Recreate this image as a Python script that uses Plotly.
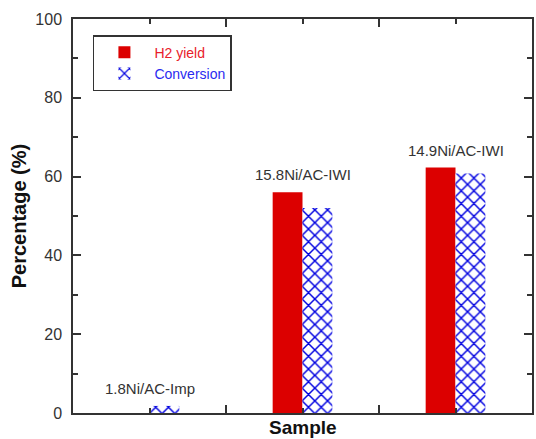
import plotly.graph_objects as go

samples = ["1.8Ni/AC-Imp", "15.8Ni/AC-IWI", "14.9Ni/AC-IWI"]
h2_yield = [0.0, 56.0, 62.3]
conversion = [1.8, 52.0, 60.8]
y_ticks = [0, 20, 40, 60, 80, 100]

xpos = list(range(len(samples)))
FONT = "Liberation Sans, Arial, sans-serif"
AX = "#333333"

fig = go.Figure()
fig.add_trace(go.Bar(
    x=xpos, y=h2_yield,
    name="<span style='color:#e8202a'>H2 yield</span>",
    marker=dict(color="#dc0000", line=dict(width=0)),
))
fig.add_trace(go.Bar(
    x=xpos, y=conversion,
    name="<span style='color:#2a2af0'>Conversion</span>",
    marker=dict(color="white", line=dict(width=0),
                pattern=dict(shape="x", fgcolor="#0000e0", bgcolor="white",
                             size=9, solidity=0.3, fillmode="replace")),
))

for i, s in enumerate(samples):
    fig.add_annotation(x=xpos[i], y=max(h2_yield[i], conversion[i]),
                       text=s, showarrow=False, yanchor="bottom", yshift=7,
                       font=dict(family=FONT, size=15, color="#333333"))

fig.add_annotation(xref="paper", yref="paper", x=-0.117, y=0.5,
                   text="<b>Percentage (%)</b>", textangle=-90, showarrow=False,
                   xanchor="center", yanchor="middle",
                   font=dict(family=FONT, size=20, color="#111111"))
fig.add_annotation(xref="paper", yref="paper", x=0.5, y=0, yshift=-14,
                   text="<b>Sample</b>", showarrow=False,
                   xanchor="center", yanchor="middle",
                   font=dict(family=FONT, size=19, color="#111111"))

fig.update_layout(
    width=536, height=439,
    margin=dict(l=73, r=2, t=19, b=26),
    paper_bgcolor="white", plot_bgcolor="white",
    barmode="group", bargap=0.61, bargroupgap=0,
    font=dict(family=FONT, size=16, color=AX),
    legend=dict(x=0.0434, y=0.959, xanchor="left", yanchor="top",
                bordercolor="#333333", borderwidth=1.5, bgcolor="white",
                font=dict(family=FONT, size=14), itemwidth=50,
                tracegroupgap=0),
    showlegend=True,
)
fig.update_xaxes(
    range=[-0.5, 2.5], showline=True, linecolor=AX, linewidth=1.5,
    mirror="allticks", ticks="inside", ticklen=8, tickwidth=1.5, tickcolor=AX,
    tickmode="array", tickvals=[0.5, 1.5], showticklabels=False,
    showgrid=False, zeroline=False,
    minor=dict(tickmode="array", tickvals=xpos, ticks="inside", ticklen=5,
               tickwidth=1.5, tickcolor=AX, showgrid=False),
)
fig.update_yaxes(
    range=[0, 100], showline=True, linecolor=AX, linewidth=1.5,
    mirror="allticks", ticks="inside", ticklen=8, tickwidth=1.5, tickcolor=AX,
    tickmode="array", tickvals=y_ticks, ticklabelstandoff=6,
    tickfont=dict(family=FONT, size=16, color="#333333"),
    showgrid=False, zeroline=False,
    minor=dict(dtick=10, ticks="inside", ticklen=5, tickwidth=1.5,
               tickcolor=AX, showgrid=False),
)

fig.write_html("out.html")
